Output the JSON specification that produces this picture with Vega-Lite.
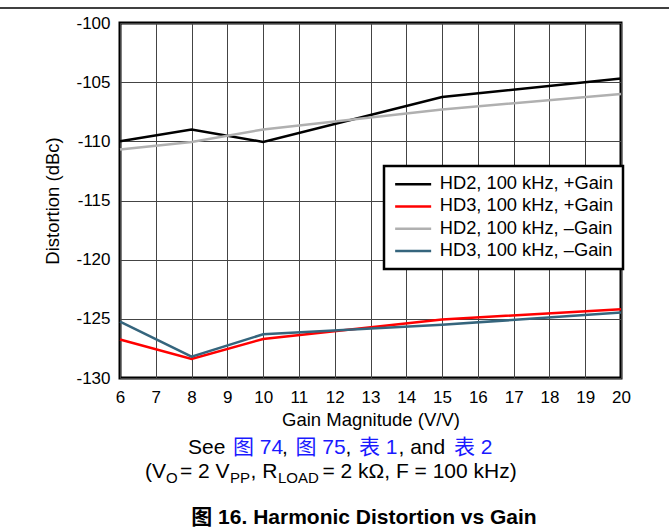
{
  "$schema": "https://vega.github.io/schema/vega-lite/v6.json",
  "width": 501,
  "height": 355,
  "autosize": {"type": "none"},
  "padding": {"left": 120, "top": 23, "right": 48, "bottom": 151},
  "background": "white",
  "config": {
    "font": "Liberation Sans, Arial, Noto Sans CJK SC, sans-serif",
    "view": {"stroke": "black", "strokeWidth": 3},
    "axis": {
      "grid": true,
      "gridColor": "#444444",
      "gridWidth": 1,
      "gridOpacity": 1,
      "domain": false,
      "ticks": false,
      "tickSize": 0,
      "labelColor": "black",
      "labelFontSize": 17,
      "labelFont": "Liberation Sans, Arial, sans-serif",
      "titleColor": "black",
      "titleFontSize": 18.5,
      "titleFontWeight": "normal",
      "titleFont": "Liberation Sans, Arial, sans-serif",
      "labelFlush": false,
      "labelOverlap": false
    },
    "legend": {
      "strokeColor": "black",
      "strokeWidth": 2.5,
      "fillColor": "white",
      "cornerRadius": 0
    }
  },
  "datasets": {
    "curves": [
      {"series": "HD2, 100 kHz, +Gain", "gain": 6, "dbc": -110.0},
      {"series": "HD2, 100 kHz, +Gain", "gain": 8, "dbc": -109.0},
      {"series": "HD2, 100 kHz, +Gain", "gain": 10, "dbc": -110.05},
      {"series": "HD2, 100 kHz, +Gain", "gain": 15, "dbc": -106.25},
      {"series": "HD2, 100 kHz, +Gain", "gain": 20, "dbc": -104.7},
      {"series": "HD3, 100 kHz, +Gain", "gain": 6, "dbc": -126.75},
      {"series": "HD3, 100 kHz, +Gain", "gain": 8, "dbc": -128.4},
      {"series": "HD3, 100 kHz, +Gain", "gain": 10, "dbc": -126.7},
      {"series": "HD3, 100 kHz, +Gain", "gain": 15, "dbc": -125.05},
      {"series": "HD3, 100 kHz, +Gain", "gain": 20, "dbc": -124.2},
      {"series": "HD2, 100 kHz, –Gain", "gain": 6, "dbc": -110.7},
      {"series": "HD2, 100 kHz, –Gain", "gain": 8, "dbc": -110.05},
      {"series": "HD2, 100 kHz, –Gain", "gain": 10, "dbc": -109.0},
      {"series": "HD2, 100 kHz, –Gain", "gain": 15, "dbc": -107.3},
      {"series": "HD2, 100 kHz, –Gain", "gain": 20, "dbc": -106.0},
      {"series": "HD3, 100 kHz, –Gain", "gain": 6, "dbc": -125.23},
      {"series": "HD3, 100 kHz, –Gain", "gain": 8, "dbc": -128.2},
      {"series": "HD3, 100 kHz, –Gain", "gain": 10, "dbc": -126.3},
      {"series": "HD3, 100 kHz, –Gain", "gain": 15, "dbc": -125.5},
      {"series": "HD3, 100 kHz, –Gain", "gain": 20, "dbc": -124.47}
    ],
    "notes": [
      {"t": "See", "gain": 7.9, "dbc": -136.42, "role": "plain"},
      {"t": "图 74", "gain": 9.158, "dbc": -136.42, "role": "link"},
      {"t": ",", "gain": 10.527, "dbc": -136.42, "role": "plain"},
      {"t": "图 75", "gain": 10.904, "dbc": -136.42, "role": "link"},
      {"t": ",", "gain": 12.301, "dbc": -136.42, "role": "plain"},
      {"t": "表 1", "gain": 12.679, "dbc": -136.42, "role": "link"},
      {"t": ", and", "gain": 13.783, "dbc": -136.42, "role": "plain"},
      {"t": "表 2", "gain": 15.333, "dbc": -136.42, "role": "link"},
      {"t": "(V", "gain": 6.699, "dbc": -138.45, "role": "plain"},
      {"t": "= 2 V", "gain": 7.677, "dbc": -138.45, "role": "plain"},
      {"t": ", R", "gain": 9.647, "dbc": -138.45, "role": "plain"},
      {"t": "= 2 kΩ, F = 100 kHz)", "gain": 11.656, "dbc": -138.45, "role": "plain"},
      {"t": "O", "gain": 7.285, "dbc": -138.87, "role": "sub"},
      {"t": "PP", "gain": 9.074, "dbc": -138.87, "role": "sub"},
      {"t": "LOAD", "gain": 10.416, "dbc": -138.87, "role": "sub"},
      {"t": "图 16. Harmonic Distortion vs Gain", "gain": 12.818, "dbc": -142.34, "role": "title"}
    ]
  },
  "layer": [
    {
      "data": {"name": "curves"},
      "mark": {"type": "line", "strokeWidth": 2.5},
      "encoding": {
        "x": {
          "field": "gain",
          "type": "quantitative",
          "scale": {"domain": [6, 20], "nice": false, "zero": false},
          "axis": {
            "values": [6, 7, 8, 9, 10, 11, 12, 13, 14, 15, 16, 17, 18, 19, 20],
            "tickCount": 15,
            "title": "Gain Magnitude (V/V)",
            "labelPadding": 11,
            "titlePadding": 5
          }
        },
        "y": {
          "field": "dbc",
          "type": "quantitative",
          "scale": {"domain": [-130, -100], "nice": false, "zero": false},
          "axis": {
            "values": [-130, -125, -120, -115, -110, -105, -100],
            "labelExpr": "'' + datum.value",
            "title": "Distortion (dBc)",
            "labelPadding": 10,
            "titlePadding": 13
          }
        },
        "color": {
          "field": "series",
          "type": "nominal",
          "scale": {
            "domain": ["HD2, 100 kHz, +Gain", "HD3, 100 kHz, +Gain", "HD2, 100 kHz, –Gain", "HD3, 100 kHz, –Gain"],
            "range": ["#000000", "#ff0000", "#b0b0b0", "#35657d"]
          },
          "legend": {
            "title": null,
            "orient": "none",
            "legendX": 264,
            "legendY": 143,
            "padding": 9,
            "fillColor": "white",
            "strokeColor": "black",
            "labelFontSize": 18.3,
            "labelFont": "Liberation Sans, Arial, sans-serif",
            "labelColor": "black",
            "labelOffset": 28.5,
            "labelLimit": 400,
            "symbolType": "M-1.4,0H5.8",
            "symbolSize": 100,
            "symbolStrokeWidth": 2.5,
            "rowPadding": 3.3
          }
        }
      }
    },
    {
      "data": {"values": [{}]},
      "mark": {"type": "rule", "color": "black", "strokeWidth": 1.5},
      "encoding": {
        "x": {"datum": 2.64, "type": "quantitative"},
        "x2": {"datum": 21.36},
        "y": {"datum": -98.73, "type": "quantitative"}
      }
    },
    {
      "data": {"name": "notes"},
      "transform": [{"filter": "datum.role === 'plain' || datum.role === 'link'"}],
      "mark": {"type": "text", "align": "left", "baseline": "alphabetic", "fontSize": 21},
      "encoding": {
        "x": {"field": "gain", "type": "quantitative"},
        "y": {"field": "dbc", "type": "quantitative"},
        "text": {"field": "t"},
        "color": {"condition": {"test": "datum.role === 'link'", "value": "#1a1aff"}, "value": "black"}
      }
    },
    {
      "data": {"name": "notes"},
      "transform": [{"filter": "datum.role === 'sub'"}],
      "mark": {"type": "text", "align": "left", "baseline": "alphabetic", "fontSize": 15, "color": "black"},
      "encoding": {
        "x": {"field": "gain", "type": "quantitative"},
        "y": {"field": "dbc", "type": "quantitative"},
        "text": {"field": "t"}
      }
    },
    {
      "data": {"name": "notes"},
      "transform": [{"filter": "datum.role === 'title'"}],
      "mark": {"type": "text", "align": "center", "baseline": "alphabetic", "fontSize": 21, "fontWeight": "bold", "color": "black"},
      "encoding": {
        "x": {"field": "gain", "type": "quantitative"},
        "y": {"field": "dbc", "type": "quantitative"},
        "text": {"field": "t"}
      }
    }
  ]
}
